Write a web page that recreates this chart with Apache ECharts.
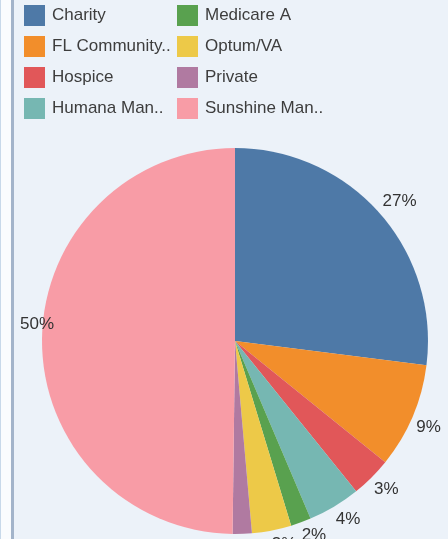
<!DOCTYPE html>
<html>
<head>
<meta charset="utf-8">
<script src="https://cdn.jsdelivr.net/npm/echarts@6/dist/echarts.min.js"></script>
<style>
  html, body { margin: 0; padding: 0; background: #ecf2f9; }
  #chart { width: 448px; height: 539px; }
</style>
</head>
<body>
<div id="chart"></div>
<script>
const categories = ['Charity', 'FL Community..', 'Hospice', 'Humana Man..', 'Medicare A', 'Optum/VA', 'Private', 'Sunshine Man..'];
const shares = [27.0, 8.8, 3.4, 4.4, 1.7, 3.3, 1.6, 49.8];
const colors = ['#4e79a7', '#f28e2b', '#e15759', '#76b7b2', '#59a14f', '#edc948', '#b07aa1', '#f89ca6'];
const legendCol1 = categories.slice(0, 4);
const legendCol2 = categories.slice(4);

const total = shares.reduce((a, b) => a + b, 0);
const midAngles = [];
let cum = 0;
for (const v of shares) { midAngles.push(90 - (cum + v / 2) / total * 360); cum += v; }

const chart = echarts.init(document.getElementById('chart'));
const font = "'Liberation Sans', Arial, sans-serif";
const legendBase = {
  orient: 'vertical', top: 5, padding: 0, itemWidth: 21, itemHeight: 21, itemGap: 10,
  icon: 'rect', selectedMode: false,
  textStyle: { fontFamily: font, fontSize: 17, color: '#3d3d3d', padding: [0, 0, 0, 2] }
};
chart.setOption({
  animation: false,
  backgroundColor: '#ecf2f9',
  color: colors,
  graphic: [
    { type: 'rect', shape: { x: 0, y: 0, width: 1, height: 539 }, style: { fill: '#c8d9ea' }, silent: true },
    { type: 'rect', shape: { x: 1, y: 0, width: 10, height: 539 }, style: { fill: '#fafcfe' }, silent: true },
    { type: 'rect', shape: { x: 11, y: 0, width: 3, height: 539 }, style: { fill: '#a3b4ca' }, silent: true }
  ],
  legend: [
    Object.assign({ left: 24, data: legendCol1 }, legendBase),
    Object.assign({ left: 177, data: legendCol2 }, legendBase)
  ],
  series: [{
    type: 'pie',
    center: [235, 341],
    radius: 193,
    startAngle: 90,
    clockwise: true,
    avoidLabelOverlap: false,
    emphasis: { disabled: true },
    label: {
      show: true, position: 'outside',
      fontFamily: font, fontSize: 17, color: '#333',
      formatter: p => Math.round(p.percent) + '%'
    },
    labelLine: { show: false, length: 5, length2: 0 },
    labelLayout: function (p) {
      const a = midAngles[p.dataIndex] * Math.PI / 180;
      const s = Math.sin(a);
      if (Math.abs(s) < 0.2) {
        // keep the label inside the pane, nudged as in the reference
        const dx = Math.max(0, 20 - p.labelRect.x);
        return { dx: dx, dy: -15, verticalAlign: 'middle' };
      }
      return { dx: Math.cos(a) > 0 ? -6 : 6, verticalAlign: s > 0 ? 'bottom' : 'top' };
    },
    data: categories.map((c, i) => ({ name: c, value: shares[i] }))
  }]
});
</script>
</body>
</html>
